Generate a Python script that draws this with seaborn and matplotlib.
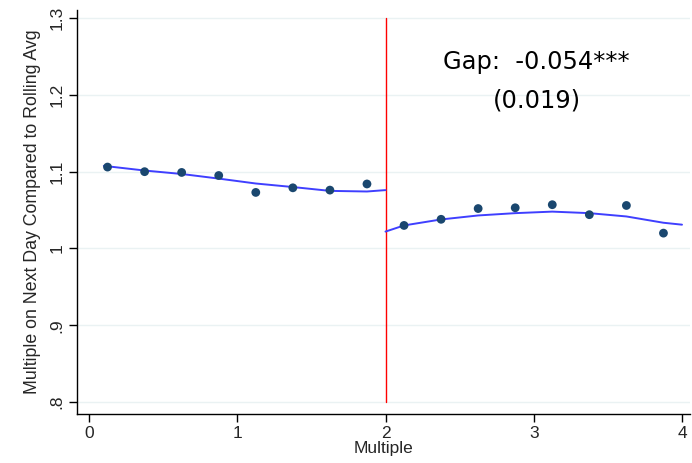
import matplotlib
matplotlib.use("Agg")
import matplotlib.pyplot as plt
import seaborn as sns
import numpy as np
import pandas as pd

# Binned scatter points
bin_x = [0.125, 0.375, 0.625, 0.875, 1.125, 1.375, 1.625, 1.875,
         2.125, 2.375, 2.625, 2.875, 3.125, 3.375, 3.625, 3.875]
bin_y = [1.106, 1.100, 1.099, 1.095, 1.073, 1.079, 1.076, 1.084,
         1.030, 1.038, 1.052, 1.053, 1.057, 1.044, 1.056, 1.020]

# Fitted lines
left_fit_x = [0.1, 0.125, 0.375, 0.625, 0.875, 1.125, 1.375, 1.625, 1.875, 2.0]
left_fit_y = [1.1075, 1.107, 1.1015, 1.097, 1.091, 1.0846, 1.080, 1.075, 1.0742, 1.076]
right_fit_x = [2.0, 2.125, 2.375, 2.625, 2.875, 3.125, 3.375, 3.625, 3.875, 4.0]
right_fit_y = [1.022, 1.030, 1.0378, 1.043, 1.046, 1.048, 1.046, 1.0417, 1.0335, 1.031]

cutoff = 2.0
gap_text = "Gap:  -0.054***"
se_text = "(0.019)"

x_ticks = [0, 1, 2, 3, 4]
y_ticks = [0.8, 0.9, 1.0, 1.1, 1.2, 1.3]
y_tick_labels = [".8", ".9", "1", "1.1", "1.2", "1.3"]

sns.set_theme(style="white")
plt.rcParams['font.family'] = ['Liberation Sans', 'DejaVu Sans']

fig = plt.figure(figsize=(6.92, 4.63), dpi=100)
ax = fig.add_axes([77/692, 49/463, 613/692, 404/463])

pts = pd.DataFrame({"x": bin_x, "y": bin_y})
lf = pd.DataFrame({"x": left_fit_x, "y": left_fit_y})
rf = pd.DataFrame({"x": right_fit_x, "y": right_fit_y})

for yt in y_ticks:
    ax.axhline(yt, color="#eaf2f3", lw=1.0, zorder=0)

sns.lineplot(data=lf, x="x", y="y", ax=ax, color="#3f3fff", lw=1.4, estimator=None, sort=True, zorder=2)
sns.lineplot(data=rf, x="x", y="y", ax=ax, color="#3f3fff", lw=1.4, estimator=None, sort=True, zorder=2)
sns.scatterplot(data=pts, x="x", y="y", ax=ax, color="#1a476f", s=40, edgecolor="none", zorder=3)

ax.plot([cutoff, cutoff], [y_ticks[0], y_ticks[-1]], color="#ff0000", lw=1.0, zorder=1)

ax.set_xlim(-0.081, 4.054)
ax.set_ylim(0.7845, 1.3105)
ax.set_xticks(x_ticks)
ax.set_xticklabels([str(v) for v in x_ticks], fontsize=12.5)
ax.set_yticks(y_ticks)
ax.set_yticklabels(y_tick_labels, fontsize=12.5, rotation=90, va="center")
ax.tick_params(axis="both", direction="out", length=6, width=1, color="black", pad=3, bottom=True, left=True)

for s in ["top", "right"]:
    ax.spines[s].set_visible(False)
for s in ["left", "bottom"]:
    ax.spines[s].set_color("black")
    ax.spines[s].set_linewidth(1.0)

ax.set_xlabel("Multiple", fontsize=12.5, labelpad=0)
ax.set_ylabel("Multiple on Next Day Compared to Rolling Avg", fontsize=12.8, labelpad=6)

ax.text(3.02, 1.243, gap_text, ha="center", va="center", fontsize=17.4, color="black", family=["DejaVu Sans"])
ax.text(3.02, 1.193, se_text, ha="center", va="center", fontsize=17.4, color="black", family=["DejaVu Sans"])

fig.savefig("out.png", dpi=100)
